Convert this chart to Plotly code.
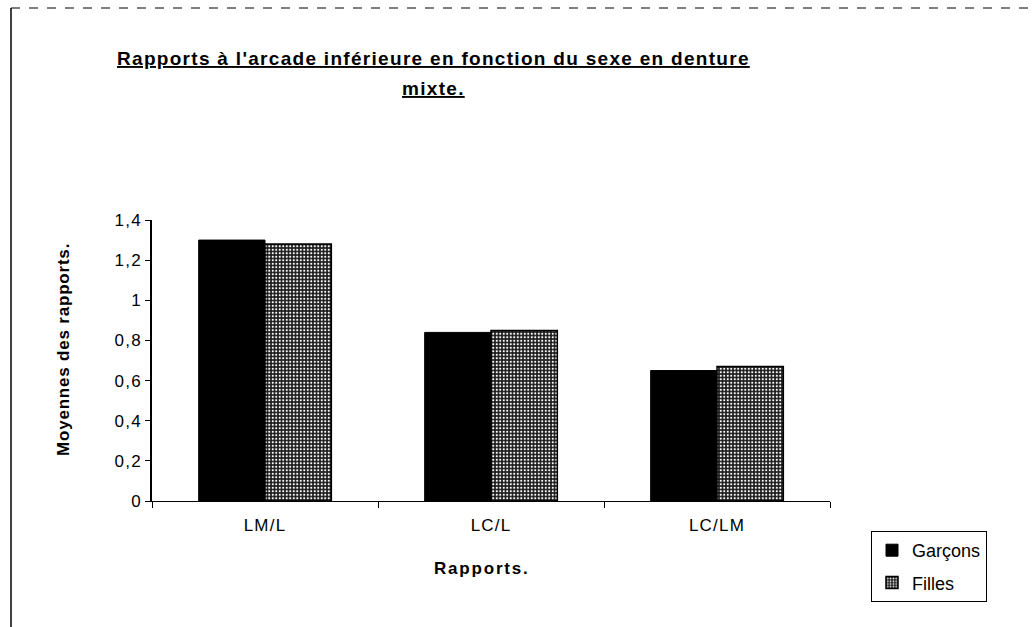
import plotly.graph_objects as go

# Ratio categories and mean values per sex
categories = ["LM/L", "LC/L", "LC/LM"]
garcons = [1.30, 0.84, 0.65]
filles = [1.28, 0.85, 0.67]
y_ticks = [0, 0.2, 0.4, 0.6, 0.8, 1.0, 1.2, 1.4]
y_tick_labels = ["0", "0,2", "0,4", "0,6", "0,8", "1", "1,2", "1,4"]

W, H = 1033, 627
L, R, T, B = 152, 203, 220, 126
FONT = "Liberation Sans, Arial, sans-serif"


def spaced(text, px):
    return f'<span style="letter-spacing:{px}px">{text}</span>'


fig = go.Figure()
fig.add_trace(go.Bar(
    name="Garçons", x=categories, y=garcons, legendgroup="g",
    marker=dict(color="black", line=dict(color="black", width=1)),
))
fig.add_trace(go.Bar(
    name="Filles", x=categories, y=filles, legendgroup="f",
    marker=dict(
        color="#1a1a1a",
        line=dict(color="black", width=1.5),
        pattern=dict(shape=".", fgcolor="white", bgcolor="#1a1a1a",
                     size=3.5, solidity=0.3, fillmode="replace"),
    ),
))


def px_x(px):
    return (px - L) / (W - L - R)


def px_y(py):
    return (H - B - py) / (H - T - B)


fig.update_layout(
    width=W, height=H,
    margin=dict(l=L, r=R, t=T, b=B),
    paper_bgcolor="white", plot_bgcolor="white",
    barmode="group", bargap=0.413, bargroupgap=0,
    font=dict(family=FONT, color="black", size=16),
    xaxis=dict(
        range=[-0.5, 2.5],
        showline=True, linecolor="black", linewidth=1.2,
        ticks="outside", tickson="boundaries", ticklen=6, tickcolor="black",
        tickvals=categories, ticktext=[spaced(c, 1.2) for c in categories],
        tickfont=dict(size=17), ticklabelstandoff=8,
        showgrid=False,
    ),
    yaxis=dict(
        range=[0, 1.4], tickvals=y_ticks,
        ticktext=[spaced(t, 1.2) for t in y_tick_labels],
        showline=True, linecolor="black", linewidth=1.5,
        ticks="outside", ticklen=5, tickcolor="black",
        tickfont=dict(size=17),
        showgrid=False, zeroline=False,
    ),
    legend=dict(
        x=px_x(871), xanchor="left", y=px_y(531), yanchor="top",
        bordercolor="black", borderwidth=1, bgcolor="white",
        font=dict(size=18), itemwidth=30,
        traceorder="grouped", tracegroupgap=6,
    ),
    showlegend=True,
)

# Title (two underlined bold lines)
for line_text, y_px in [("Rapports à l'arcade inférieure en fonction du sexe en denture", 58),
                        ("mixte.", 88)]:
    fig.add_annotation(
        text="<b><u>" + spaced(line_text, 1.3) + "</u></b>",
        xref="paper", yref="paper", x=px_x(433), y=px_y(y_px),
        xanchor="center", yanchor="middle", showarrow=False,
        font=dict(family=FONT, size=19, color="black"),
    )

# Axis titles
fig.add_annotation(
    text="<b>" + spaced("Rapports.", 1.8) + "</b>",
    xref="paper", yref="paper", x=px_x(482), y=px_y(568),
    xanchor="center", yanchor="middle", showarrow=False,
    font=dict(family=FONT, size=17, color="black"),
)
fig.add_annotation(
    text="<b>" + spaced("Moyennes des rapports.", 0.8) + "</b>",
    xref="paper", yref="paper", x=px_x(63), y=px_y(350),
    xanchor="center", yanchor="middle", showarrow=False, textangle=-90,
    font=dict(family=FONT, size=17, color="black"),
)

# Outer chart frame (left and top edges)
fig.add_shape(type="line", xref="paper", yref="paper",
              x0=px_x(11), x1=px_x(W + 5), y0=px_y(8), y1=px_y(8),
              line=dict(color="black", width=1, dash="dash"))
fig.add_shape(type="line", xref="paper", yref="paper",
              x0=px_x(11), x1=px_x(11), y0=px_y(8), y1=px_y(H + 5),
              line=dict(color="black", width=1.5))

fig.write_html("out.html")
